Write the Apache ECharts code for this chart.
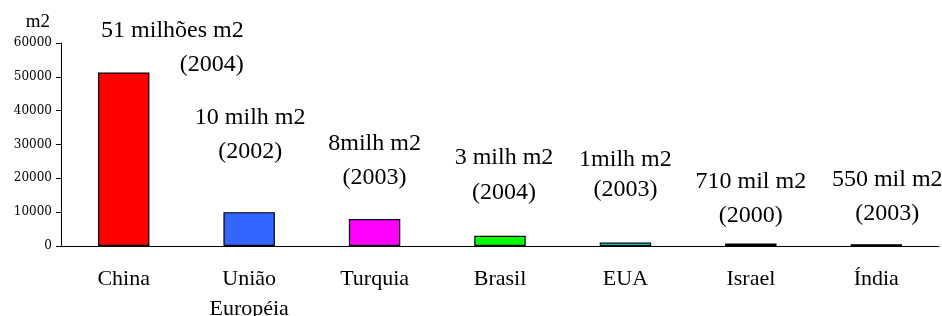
<!DOCTYPE html>
<html>
<head>
<meta charset="utf-8">
<script src="https://cdn.jsdelivr.net/npm/echarts@6/dist/echarts.min.js"></script>
<style>
  html, body { margin: 0; padding: 0; background: #fff; }
  #main { width: 942px; height: 316px; }
</style>
</head>
<body>
<div id="main"></div>
<script>
const categories = ['China', 'União\nEuropéia', 'Turquia', 'Brasil', 'EUA', 'Israel', 'Índia']
const areas = [51300, 10000, 8000, 3000, 1000, 710, 550]
const barColors = ['#ff0000', '#3366ff', '#ff00ff', '#00ff00', '#00ffff', '#000000', '#000000']
const notesTop = ['51 milhões m2', '10 milh m2', '8milh m2', '3 milh m2', '1milh m2', '710 mil m2', '550 mil m2']
const notesYear = ['(2004)', '(2002)', '(2003)', '(2004)', '(2003)', '(2000)', '(2003)']
const yTicks = [0, 10000, 20000, 30000, 40000, 50000, 60000]

// onde ficam os textos: deslocamento (px) do centro da categoria e altura de cada linha
const noteLayout = [
  { align: 'right', dx: 120, y1: 31, y2: 65 },
  { align: 'center', dx: 1, y1: 118, y2: 152 },
  { align: 'center', dx: 0, y1: 144, y2: 178 },
  { align: 'center', dx: 4, y1: 158, y2: 193 },
  { align: 'center', dx: 0, y1: 160, y2: 190 },
  { align: 'center', dx: 0, y1: 182, y2: 216 },
  { align: 'center', dx: 11, y1: 180, y2: 214 }
]

const serif = '"Liberation Serif", "Times New Roman", serif'

const chart = echarts.init(document.getElementById('main'))
chart.setOption({
  animation: false,
  grid: { left: 61, right: 3, top: 43, bottom: 70, outerBoundsMode: 'none' },
  xAxis: {
    type: 'category',
    data: categories,
    axisLine: { lineStyle: { color: '#000', width: 1 } },
    axisTick: { length: 6, lineStyle: { color: '#000' } },
    axisLabel: {
      interval: 0,
      color: '#000',
      fontFamily: serif,
      fontSize: 22,
      lineHeight: 30,
      margin: 18
    }
  },
  yAxis: {
    type: 'value',
    min: yTicks[0],
    max: yTicks[yTicks.length - 1],
    interval: yTicks[1] - yTicks[0],
    name: 'm2',
    nameLocation: 'end',
    nameGap: 11,
    nameTextStyle: {
      color: '#000',
      fontFamily: serif,
      fontSize: 19,
      align: 'right',
      padding: [0, 11, 0, 0]
    },
    axisLine: { show: true, lineStyle: { color: '#000', width: 1 } },
    axisTick: { show: true, length: 5, lineStyle: { color: '#000' } },
    splitLine: { show: false },
    axisLabel: {
      color: '#000',
      fontFamily: '"DejaVu Serif", serif',
      fontSize: 12,
      margin: 9,
      formatter: v => String(v)
    }
  },
  series: [{
    type: 'bar',
    barWidth: '41%',
    data: areas.map((v, i) => ({
      value: v,
      itemStyle: { color: barColors[i] }
    })),
    itemStyle: { borderColor: '#000', borderWidth: 1.2 }
  }]
})

// textos de anotação acima das barras
const notes = []
categories.forEach((c, i) => {
  const lay = noteLayout[i]
  const cx = chart.convertToPixel({ xAxisIndex: 0 }, i) + lay.dx
  ;[[notesTop[i], lay.y1], [notesYear[i], lay.y2]].forEach(([txt, y]) => {
    notes.push({
      type: 'text',
      style: {
        text: txt,
        x: cx,
        y: y,
        align: lay.align,
        verticalAlign: 'middle',
        font: '24px ' + serif,
        fill: '#000'
      }
    })
  })
})
chart.setOption({ graphic: notes })
</script>
</body>
</html>
